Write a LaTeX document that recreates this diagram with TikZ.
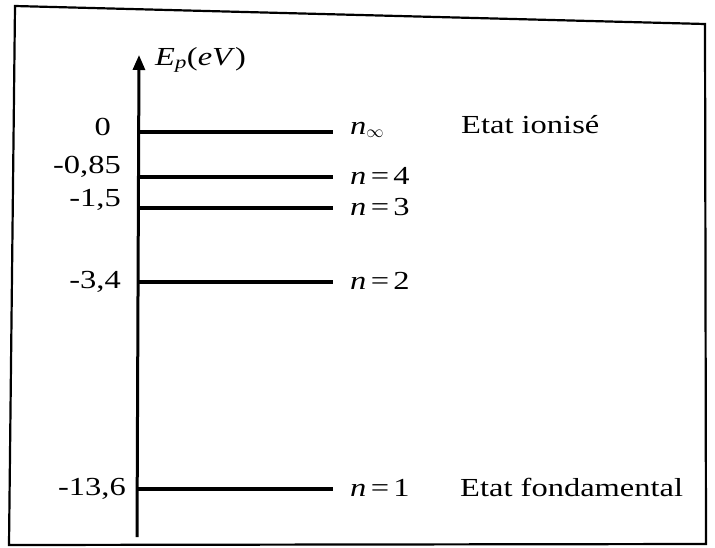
\documentclass[tikz,border=0pt]{standalone}
\usepackage{fontspec}
\setmainfont{Liberation Serif}[FakeStretch=1.25]
\usetikzlibrary{arrows.meta}
\begin{document}
\begin{tikzpicture}[x=1pt,y=-1pt,
  lvl/.style={line width=3.2pt},
  axisline/.style={line width=3pt,-{Triangle[length=15pt,width=12pt]}},
  frame/.style={line width=2.2pt},
  lab/.style={font=\fontsize{26}{30}\selectfont, inner sep=0pt}]
\useasboundingbox (0,0) rectangle (715,547);
\draw[frame] (15,6) -- (705,24) -- (706,544) -- (9,545) -- cycle;
% axis
\coordinate (ax0) at (137,537);
\coordinate (ax1) at (139,55);
\draw[axisline] (ax0) -- (ax1);
\node[lab,anchor=west] (ep) at (155,60) {\textit{E}\textsubscript{\textit{p}}(\textit{eV})};
% levels
\coordinate (l0a) at (139,132); \coordinate (l0b) at (333,132);
\coordinate (l4a) at (139,177); \coordinate (l4b) at (333,177);
\coordinate (l3a) at (139,208); \coordinate (l3b) at (333,208);
\coordinate (l2a) at (138,282); \coordinate (l2b) at (333,282);
\coordinate (l1a) at (136,489); \coordinate (l1b) at (333,489);
\draw[lvl] (l0a) -- (l0b);
\draw[lvl] (l4a) -- (l4b);
\draw[lvl] (l3a) -- (l3b);
\draw[lvl] (l2a) -- (l2b);
\draw[lvl] (l1a) -- (l1b);
% energy values
\node[lab,anchor=east] (v0) at (111,127) {0};
\node[lab,anchor=east] (v4) at (121,167) {-0,85};
\node[lab,anchor=east] (v3) at (121,200) {-1,5};
\node[lab,anchor=east] (v2) at (121,282) {-3,4};
\node[lab,anchor=east] (v1) at (126,489) {-13,6};
% quantum numbers
\node[lab,anchor=west] (n0) at (350,130) {\textit{n}\textsubscript{$\infty$}};
\node[lab,anchor=west] (n4) at (350,176) {\textit{n}\,=\,4};
\node[lab,anchor=west] (n3) at (350,207) {\textit{n}\,=\,3};
\node[lab,anchor=west] (n2) at (350,281) {\textit{n}\,=\,2};
\node[lab,anchor=west] (n1) at (350,488) {\textit{n}\,=\,1};
% states
\node[lab,anchor=west] (ion) at (461,125) {Etat ionisé};
\node[lab,anchor=west] (fond) at (460,487) {Etat fondamental};
\end{tikzpicture}
\end{document}
